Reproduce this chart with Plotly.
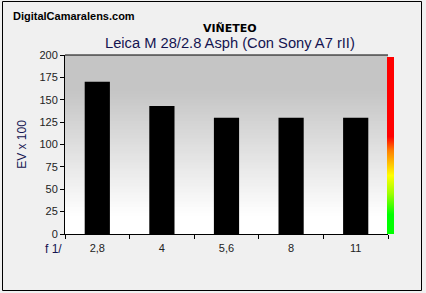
import plotly.graph_objects as go

categories = ["2,8", "4", "5,6", "8", "11"]
values = [170, 143, 130, 130, 130]
y_ticks = [0, 25, 50, 75, 100, 125, 150, 175, 200]

W, H = 426, 293
L, R, T, B = 65, 38, 55, 59
pw, ph = W - L - R, H - T - B

def px_x(x):
    return (x - L) / pw

def px_y(y):
    return (H - B - y) / ph

fig = go.Figure()
fig.add_trace(go.Bar(x=categories, y=values, marker=dict(color="black", line=dict(width=0)),
                     width=0.39, hoverinfo="skip"))

# colour bar (green bottom -> red top) via a dummy trace's colorbar
cscale = [[0.0, "rgb(0,255,0)"], [0.11, "rgb(0,255,0)"], [0.23, "rgb(160,255,0)"],
          [0.33, "rgb(255,255,0)"], [0.47, "rgb(255,128,0)"], [0.55, "rgb(255,0,0)"],
          [1.0, "rgb(255,0,0)"]]
fig.add_trace(go.Scatter(x=[None], y=[None], mode="markers", hoverinfo="skip",
                         marker=dict(color=[0], cmin=0, cmax=1, colorscale=cscale, showscale=True,
                                     colorbar=dict(x=px_x(387), xanchor="left", xref="paper",
                                                   y=px_y(57), yanchor="top", yref="paper",
                                                   thicknessmode="pixels", thickness=7,
                                                   lenmode="pixels", len=176.5,
                                                   outlinewidth=0, showticklabels=False, ticks="",
                                                   xpad=0, ypad=0, bgcolor="rgba(0,0,0,0)",
                                                   borderwidth=0))))

shapes = []
# outer border
shapes.append(dict(type="rect", xref="paper", yref="paper", x0=px_x(2.5), x1=px_x(421.5),
                   y0=px_y(1.5), y1=px_y(290.5), line=dict(color="black", width=1),
                   fillcolor="rgba(0,0,0,0)", layer="below"))

def lerp(a, b, t):
    return int(round(a + (b - a) * t))

# plot background gradient (white bottom -> grey top)
N = 60
for i in range(N):
    f0 = i / N
    fm = (i + 0.5) / N
    t = min(1.0, max(0.0, (fm - 0.1) / (0.8 - 0.1)))
    g = lerp(255, 197, t)
    shapes.append(dict(type="rect", xref="paper", yref="paper", x0=0, x1=1, y0=f0,
                       y1=min(1.0, f0 + 1.0 / N + 0.01),
                       line=dict(width=0), fillcolor=f"rgb({g},{g},{g})", layer="below"))

# top frame line
shapes.append(dict(type="line", xref="paper", yref="paper", x0=0, x1=1, y0=1, y1=1,
                   line=dict(color="black", width=1)))

font_main = "Liberation Sans, Arial, sans-serif"
annotations = [
    dict(text="<b>DigitalCamaralens.com</b>", xref="paper", yref="paper", x=px_x(11), y=px_y(16),
         xanchor="left", yanchor="middle", showarrow=False,
         font=dict(family=font_main, size=11, color="black")),
    dict(text="<b>VIÑETEO</b>", xref="paper", yref="paper", x=px_x(230), y=px_y(28),
         xanchor="center", yanchor="middle", showarrow=False,
         font=dict(family="DejaVu Sans, Verdana, sans-serif", size=11, color="black")),
    dict(text="Leica M 28/2.8 Asph (Con Sony A7 rII)", xref="paper", yref="paper", x=px_x(230), y=px_y(43),
         xanchor="center", yanchor="middle", showarrow=False,
         font=dict(family=font_main, size=14.7, color="#141450")),
    dict(text="f 1/", xref="paper", yref="paper", x=px_x(53), y=px_y(249),
         xanchor="center", yanchor="middle", showarrow=False,
         font=dict(family=font_main, size=12, color="#141450")),
]

fig.update_layout(
    width=W, height=H,
    margin=dict(l=L, r=R, t=T, b=B),
    paper_bgcolor="#f0f0f0",
    plot_bgcolor="rgba(0,0,0,0)",
    showlegend=False,
    bargap=0.61,
    shapes=shapes,
    annotations=annotations,
    font=dict(family=font_main, size=11, color="#222222"),
)
fig.update_xaxes(type="category", showline=True, linecolor="black", linewidth=1,
                 ticks="outside", tickson="boundaries", ticklen=4, tickcolor="black",
                 showgrid=False, tickfont=dict(size=11, color="#222222"), ticklabelstandoff=4)
fig.update_yaxes(range=[0, 200], tickvals=y_ticks, showline=True, linecolor="black", linewidth=1,
                 ticks="outside", ticklen=4, tickcolor="black", showgrid=False, zeroline=False,
                 tickfont=dict(size=11, color="#222222"),
                 title=dict(text="EV x 100", font=dict(size=12, color="#141450"), standoff=10))

fig.write_html("out.html")
